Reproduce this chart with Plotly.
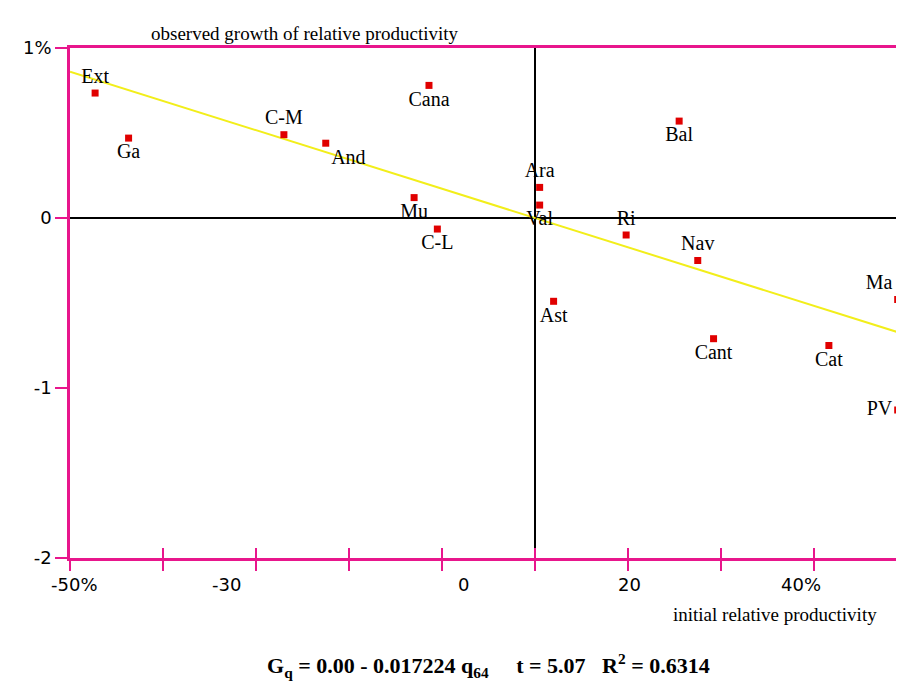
import plotly.graph_objects as go

regions = ["Ext","Ga","C-M","And","Cana","Mu","C-L","Ara","Val","Ast","Ri","Nav","Bal","Cant","Cat","Ma","PV"]
init_prod = [-47.3,-43.7,-27.0,-22.5,-11.4,-13.0,-10.5,0.5,0.5,2.0,9.8,17.5,15.5,19.2,31.6,39.0,39.0]
growth = [0.735,0.47,0.49,0.44,0.78,0.12,-0.065,0.18,0.076,-0.49,-0.10,-0.25,0.57,-0.71,-0.75,-0.48,-1.13]
label_pos = ["top center","bottom center","top center","bottom right","bottom center","bottom center",
             "bottom center","top center","bottom center","bottom center","top center","top center",
             "bottom center","bottom center","bottom center","top left","middle left"]
fit_x = [-50, 40]
fit_y = [0.861, -0.689]
xtick_vals = [-50,-40,-30,-20,-10,0,10,20,30,40]
xlabel_vals = [-49.5,-33.2,-7.7,10.2,28.6]
xlabel_text = ["-50%","-30","0","20","40%"]
ytick_vals = [1,0,-1,-2]
ytick_text = ["1%","0","-1","-2"]

MAG = "#e8168c"
fig = go.Figure()
fig.add_trace(go.Scatter(x=fit_x, y=fit_y, mode="lines", line=dict(color="#f2ee1a", width=2), hoverinfo="skip", cliponaxis=False))
fig.add_trace(go.Scatter(x=init_prod, y=growth, mode="markers+text", text=regions, textposition=label_pos,
                         marker=dict(symbol="square", size=7, color="#e00000"), cliponaxis=False,
                         textfont=dict(family="Liberation Serif", size=20, color="black")))
fig.add_trace(go.Scatter(x=[None], y=[None], xaxis="x2", showlegend=False))
# x ticks extending inside the plot
for v in xtick_vals:
    fig.add_shape(type="line", x0=v, x1=v, y0=0, y1=0, xref="x", yref="paper", y0shift=0,
                  line=dict(color=MAG, width=2)) if False else None
fig.add_shape(type="line", x0=0, x1=0, y0=-2, y1=1, xref="x", yref="y", line=dict(color="black", width=2), layer="below")
fig.add_shape(type="line", x0=-50, x1=40, y0=0, y1=0, xref="x", yref="y", line=dict(color="black", width=2), layer="below")

axis_line = dict(showline=True, linecolor=MAG, linewidth=2.5, mirror=True)
fig.update_layout(
    width=904, height=687, margin=dict(l=62, r=5, t=40, b=137, autoexpand=False),
    plot_bgcolor="white", paper_bgcolor="white", showlegend=False,
    xaxis=dict(range=[-50,40], tickvals=xtick_vals, ticktext=[""]*len(xtick_vals), ticks="outside",
               ticklen=10, tickwidth=2, tickcolor=MAG, showgrid=False, zeroline=False, automargin=False, **axis_line),
    xaxis2=dict(range=[-50,40], overlaying="x", side="bottom", tickvals=xtick_vals, ticktext=[""]*len(xtick_vals),
                ticks="inside", ticklen=10, tickwidth=2, tickcolor=MAG, showgrid=False, zeroline=False,
                showline=False, automargin=False),
    yaxis=dict(range=[-2,1], tickvals=ytick_vals, ticktext=ytick_text, ticks="outside", ticklen=12,
               tickwidth=2, tickcolor=MAG, showgrid=False, zeroline=False, automargin=False,
               tickfont=dict(family="DejaVu Sans", size=18, color="black"), **axis_line),
)
for v, t in zip(xlabel_vals, xlabel_text):
    fig.add_annotation(x=v, y=0, xref="x", yref="paper", yanchor="top", yshift=-14, showarrow=False,
                       text=t, font=dict(family="DejaVu Sans", size=18, color="black"))
fig.add_annotation(x=-8, y=1, xref="x", yref="paper", yshift=2, xanchor="right", yanchor="bottom", showarrow=False,
                   text="observed growth of relative productivity", font=dict(family="Liberation Serif", size=19, color="black"))
fig.add_annotation(x=40, y=0, xref="x", yref="paper", xanchor="right", yanchor="top", yshift=-44, xshift=-28, showarrow=False,
                   text="initial relative productivity", font=dict(family="Liberation Serif", size=19, color="black"))
fig.add_annotation(x=0.5, y=0, xref="paper", yref="paper", yanchor="top", yshift=-90, showarrow=False,
                   text="<b>G<sub>q</sub> = 0.00 - 0.017224 q<sub>64</sub>     t = 5.07   R<sup>2</sup> = 0.6314</b>",
                   font=dict(family="Liberation Serif", size=22, color="black"))
fig.write_html("out.html")
